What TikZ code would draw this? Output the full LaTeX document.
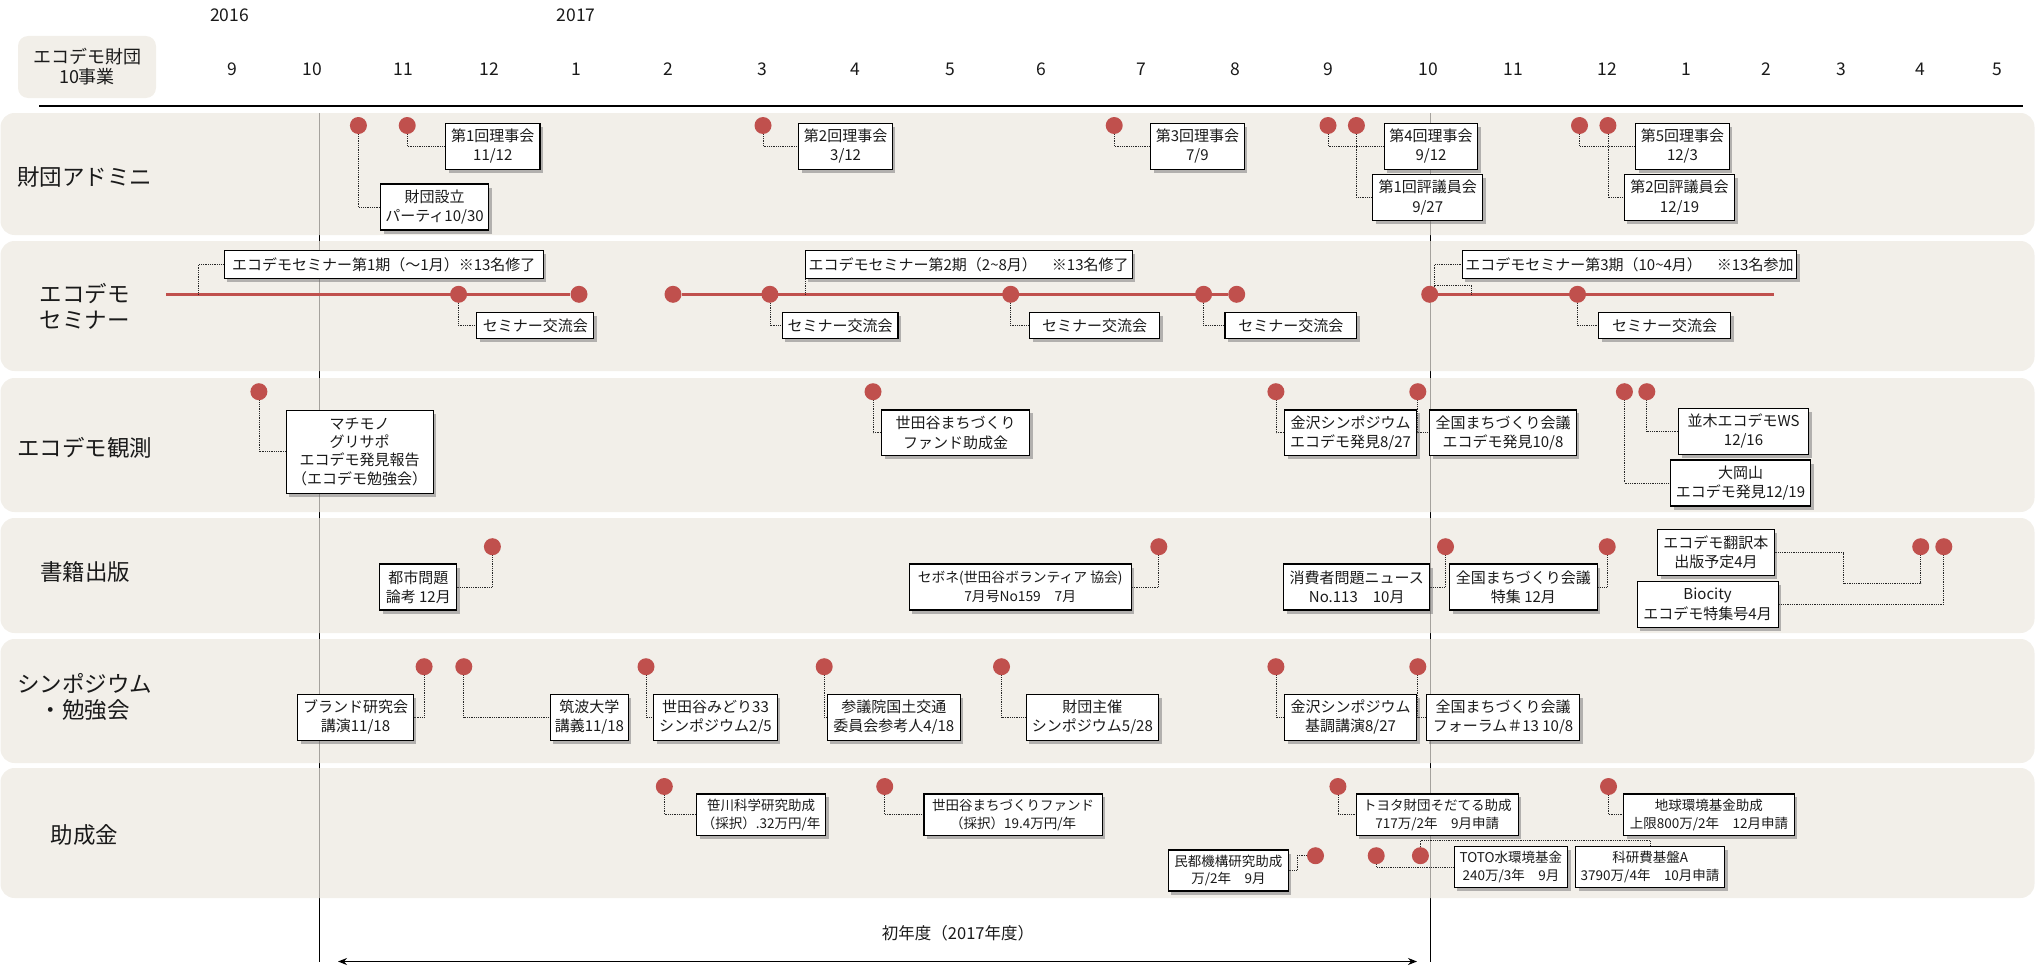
\documentclass[tikz,border=0pt]{standalone}
\usepackage{fontspec}
\setmainfont{Noto Sans CJK JP}
\usetikzlibrary{shadows,arrows.meta}
\definecolor{dotred}{HTML}{C0504D}
\definecolor{bandc}{RGB}{236,232,224}
\definecolor{bandf}{HTML}{F2EFE9}
\definecolor{txt}{HTML}{1A1A1A}
\pgfdeclarelayer{bg}
\pgfdeclarelayer{cn}
\pgfsetlayers{bg,cn,main}
\tikzset{
 evbox/.style={draw=black, line width=1.1pt, fill=white, align=center, inner sep=1pt, text=txt,
   font=\fontsize{15}{19.3}\selectfont,
   drop shadow={shadow xshift=3pt, shadow yshift=-3.5pt, opacity=0.45, fill=black!60}},
 smallbox/.style={evbox, font=\fontsize{13.5}{17.7}\selectfont},
 wh/.style 2 args={minimum width=#1, minimum height=#2},
 evdot/.style={circle, fill=dotred, minimum size=17pt, inner sep=0pt},
 conn/.style={densely dotted, line width=0.8pt, black!85},
 redline/.style={line width=3.6pt, draw=dotred},
 band/.style={fill=bandc, fill opacity=0.7, rounded corners=14pt},
 rowlbl/.style={align=center, text=txt, font=\fontsize{22.5}{26}\selectfont},
 month/.style={text=txt, font=\fontsize{17.5}{20}\selectfont},
}
\begin{document}
\begin{tikzpicture}[x=1pt,y=-1pt]
\useasboundingbox (0,0) rectangle (2035,966);

% ---------- background: timeline guides and bands ----------
\coordinate (v1t) at (319,113); \coordinate (v1b) at (319,962);
\coordinate (v2t) at (1430,113); \coordinate (v2b) at (1430,962);
\coordinate (hl1) at (39,106); \coordinate (hl2) at (2023,106);
\begin{pgfonlayer}{bg}
\draw[line width=1pt] (v1t) -- (v1b);
\draw[line width=1pt] (v2t) -- (v2b);
\path[band] (0.5,113) rectangle (2034.5,235);
\path[band] (0.5,241) rectangle (2034.5,371);
\path[band] (0.5,378) rectangle (2034.5,512);
\path[band] (0.5,518) rectangle (2034.5,633);
\path[band] (0.5,639) rectangle (2034.5,763);
\path[band] (0.5,768) rectangle (2034.5,898);
\draw[line width=1.5pt] (hl1) -- (hl2);
\end{pgfonlayer}

% ---------- header ----------
\node[fill=bandf, rounded corners=10pt, wh={138pt}{62pt}, align=center, text=txt,
  font=\fontsize{18}{20}\selectfont] (hdr) at (87,67) {エコデモ財団\\10事業};
\node[month] (y2016) at (229.6,15) {2016};
\node[month] (y2017) at (576,15) {2017};
\foreach \m/\x [count=\i] in {9/232.5,10/312.5,11/403.5,12/489.3,1/576.5,2/668.2,3/762,4/855,5/950,6/1041.8,7/1141.5,8/1235,9/1328,10/1428,11/1513.5,12/1607,1/1686.2,2/1766.6,3/1841,4/1920.5,5/1997}
  \node[month] (mo\i) at (\x,69) {\m};

% ---------- row labels ----------
\node[rowlbl] (L1) at (84.5,177) {財団アドミニ};
\node[rowlbl] (L2) at (84.5,306.5) {エコデモ\\セミナー};
\node[rowlbl] (L3) at (84.5,448) {エコデモ観測};
\node[rowlbl] (L4) at (85,572) {書籍出版};
\node[rowlbl] (L5) at (84.5,697) {シンポジウム\\・勉強会};
\node[rowlbl] (L6) at (84.5,835) {助成金};

% ---------- band 1 ----------
\node[evdot] (a1) at (358.4,125.5) {};
\node[evdot] (a2) at (407.2,125.5) {};
\node[evdot] (a3) at (763,125.5) {};
\node[evdot] (a4) at (1114.2,125.5) {};
\node[evdot] (a5) at (1328,125.5) {};
\node[evdot] (a6) at (1356.4,125.5) {};
\node[evdot] (a7) at (1579.5,125.5) {};
\node[evdot] (a8) at (1607.9,125.5) {};
\node[evbox, wh={108pt}{46pt}] (bz) at (434.5,207) {財団設立\\パーティ10/30};
\node[evbox, wh={94.4pt}{46pt}] (r1) at (492.8,146.3) {第1回理事会\\11/12};
\node[evbox, wh={93.7pt}{46pt}] (r2) at (845.6,146.3) {第2回理事会\\3/12};
\node[evbox, wh={93.7pt}{46pt}] (r3) at (1197.4,146.3) {第3回理事会\\7/9};
\node[evbox, wh={93.8pt}{46pt}] (r4) at (1431,146.3) {第4回理事会\\9/12};
\node[evbox, wh={109.6pt}{46.4pt}] (h1) at (1427.7,197.5) {第1回評議員会\\9/27};
\node[evbox, wh={93.7pt}{46pt}] (r5) at (1682.5,146.3) {第5回理事会\\12/3};
\node[evbox, wh={110.2pt}{46.4pt}] (h2) at (1679.5,197.5) {第2回評議員会\\12/19};
\begin{pgfonlayer}{cn}
\draw[conn] (a1) |- (bz.west);
\draw[conn] (a2) |- (r1.west);
\draw[conn] (a3) |- (r2.west);
\draw[conn] (a4) |- (r3.west);
\draw[conn] (a5) |- (r4.west);
\draw[conn] (a6) |- (h1.west);
\draw[conn] (a7) |- (r5.west);
\draw[conn] (a8) |- (h2.west);
\end{pgfonlayer}

% ---------- band 2 ----------
\coordinate (s1a) at (166,294.3);
\coordinate (s1k) at (198.4,294.3);
\node[evdot] (s1b) at (458.6,294.3) {};
\node[evdot] (s1c) at (579,294.3) {};
\node[evdot] (s2a) at (673,294.3) {};
\node[evdot] (s2b) at (769.9,294.3) {};
\coordinate (s2k) at (805.1,294.3);
\node[evdot] (s2c) at (1010.7,294.3) {};
\node[evdot] (s2d) at (1203.6,294.3) {};
\node[evdot] (s2e) at (1236.7,294.3) {};
\node[evdot] (s3a) at (1429.7,294.3) {};
\coordinate (s3k) at (1434.3,294.3);
\coordinate (s3j) at (1471.2,294.3);
\coordinate (s3i) at (1434.3,285);
\node[evdot] (s3b) at (1577.5,294.3) {};
\coordinate (s3e) at (1773.5,294.3);
\node[evbox, wh={318.8pt}{27.6pt}] (p1) at (383.8,264.5) {エコデモセミナー第1期（～1月）※13名修了};
\node[evbox, wh={327.1pt}{27.6pt}] (p2) at (968.6,264.5) {エコデモセミナー第2期（2\textasciitilde8月）　※13名修了};
\node[evbox, wh={334.7pt}{27.6pt}] (p3) at (1629.4,264.5) {エコデモセミナー第3期（10\textasciitilde4月）　※13名参加};
\node[evbox, wh={117pt}{26.4pt}] (k1) at (535.3,325.5) {セミナー交流会};
\node[evbox, wh={115.9pt}{26.4pt}] (k2) at (840,325.5) {セミナー交流会};
\node[evbox, wh={130pt}{26.4pt}] (k3) at (1094.6,325.5) {セミナー交流会};
\node[evbox, wh={131.6pt}{26.4pt}] (k4) at (1290.8,325.5) {セミナー交流会};
\node[evbox, wh={132pt}{26.4pt}] (k5) at (1664.6,325.5) {セミナー交流会};
\begin{pgfonlayer}{cn}
\draw[redline] (s1a) -- (s1c);
\draw[redline] (s2a) -- (s2e);
\draw[redline] (s3a) -- (s3e);
\draw[conn] (s1k) |- (p1.west);
\draw[conn] (s2k) |- (p2.west);
\draw[conn] (s3k) |- (p3.west);
\draw[conn] (s3j) |- (s3i);
\draw[conn] (s1b) |- (k1.west);
\draw[conn] (s2b) |- (k2.west);
\draw[conn] (s2c) |- (k3.west);
\draw[conn] (s2d) |- (k4.west);
\draw[conn] (s3b) |- (k5.west);
\end{pgfonlayer}

% ---------- band 3 ----------
\node[evdot] (o1) at (258.9,391.7) {};
\node[evdot] (o2) at (873,391.7) {};
\node[evdot] (o3) at (1275.9,391.7) {};
\node[evdot] (o4) at (1417.8,391.7) {};
\node[evdot] (o5) at (1624.4,391.7) {};
\node[evdot] (o6) at (1646.8,391.7) {};
\node[evbox, wh={147pt}{83.3pt}, font=\fontsize{15}{18.3}\selectfont] (m1) at (359.7,451.7) {マチモノ\\グリサポ\\エコデモ発見報告\\（エコデモ勉強会）};
\node[evbox, wh={148pt}{45.7pt}] (m2) at (955.6,432.8) {世田谷まちづくり\\ファンド助成金};
\node[evbox, wh={132pt}{45.7pt}] (m3) at (1350.5,432.8) {金沢シンポジウム\\エコデモ発見8/27};
\node[evbox, wh={146.5pt}{45.7pt}] (m4) at (1503,432.8) {全国まちづくり会議\\エコデモ発見10/8};
\node[evbox, wh={130pt}{45.7pt}] (m5) at (1743.5,431.2) {並木エコデモWS\\12/16};
\node[evbox, wh={140pt}{46pt}] (m6) at (1740.5,483) {大岡山\\エコデモ発見12/19};
\begin{pgfonlayer}{cn}
\draw[conn] (o1) |- (m1.west);
\draw[conn] (o2) |- (m2.west);
\draw[conn] (o3) |- (m3.west);
\draw[conn] (o4) |- (m4.west);
\draw[conn] (o5) |- (m6.west);
\draw[conn] (o6) |- (m5.west);
\end{pgfonlayer}

% ---------- band 4 ----------
\node[evdot] (q1) at (492.4,546.7) {};
\node[evdot] (q2) at (1158.8,546.7) {};
\node[evdot] (q3) at (1445.5,546.7) {};
\node[evdot] (q4) at (1607.2,546.7) {};
\node[evdot] (q5) at (1920.7,546.7) {};
\node[evdot] (q6) at (1943.8,546.7) {};
\coordinate (q5b) at (1843.5,583);
\node[evbox, wh={76.8pt}{46pt}] (n1) at (418.3,587) {都市問題\\論考 12月};
\node[evbox, wh={222pt}{46pt}, font=\fontsize{13.8}{19}\selectfont] (n2) at (1020.2,587) {セボネ(世田谷ボランティア 協会)\\7月号No159　7月};
\node[evbox, wh={145.9pt}{46pt}] (n3) at (1356.7,587) {消費者問題ニュース\\No.113　10月};
\node[evbox, wh={147.8pt}{46pt}] (n4) at (1523.4,587) {全国まちづくり会議\\特集 12月};
\node[evbox, wh={116.8pt}{46.4pt}] (n5) at (1715.9,552.5) {エコデモ翻訳本\\出版予定4月};
\node[evbox, wh={141pt}{46.3pt}] (n6) at (1707.6,604.2) {Biocity\\エコデモ特集号4月};
\begin{pgfonlayer}{cn}
\draw[conn] (q1) |- (n1.east);
\draw[conn] (q2) |- (n2.east);
\draw[conn] (q3) |- (n3.east);
\draw[conn] (q4) |- (n4.east);
\draw[conn] (q5) |- (q5b) |- (n5.east);
\draw[conn] (q6) |- (n6.east);
\end{pgfonlayer}

% ---------- band 5 ----------
\node[evdot] (t1) at (424.1,666.7) {};
\node[evdot] (t2) at (463.8,666.7) {};
\node[evdot] (t3) at (646,666.7) {};
\node[evdot] (t4) at (824.2,666.7) {};
\node[evdot] (t5) at (1001.5,666.7) {};
\node[evdot] (t6) at (1275.9,666.7) {};
\node[evdot] (t7) at (1417.8,666.7) {};
\node[evbox, wh={115.2pt}{45.7pt}] (y1) at (355.5,717.2) {ブランド研究会\\講演11/18};
\node[evbox, wh={78.1pt}{45.7pt}] (y2) at (589.4,717.2) {筑波大学\\講義11/18};
\node[evbox, wh={123.5pt}{45.7pt}] (y3) at (715.5,717.2) {世田谷みどり33\\シンポジウム2/5};
\node[evbox, wh={132.7pt}{45.7pt}] (y4) at (893.8,717.2) {参議院国土交通\\委員会参考人4/18};
\node[evbox, wh={132.7pt}{45.7pt}] (y5) at (1092.4,717.2) {財団主催\\シンポジウム5/28};
\node[evbox, wh={132pt}{45.7pt}] (y6) at (1350.5,717.2) {金沢シンポジウム\\基調講演8/27};
\node[evbox, wh={153.1pt}{45.7pt}] (y7) at (1503,717.2) {全国まちづくり会議\\フォーラム＃13 10/8};
\begin{pgfonlayer}{cn}
\draw[conn] (t1) |- (y1.east);
\draw[conn] (t2) |- (y2.west);
\draw[conn] (t3) |- (y3.west);
\draw[conn] (t4) |- (y4.west);
\draw[conn] (t5) |- (y5.west);
\draw[conn] (t6) |- (y6.west);
\draw[conn] (t7) |- (y7.west);
\end{pgfonlayer}

% ---------- band 6 ----------
\node[evdot] (g1) at (664.3,786.5) {};
\node[evdot] (g2) at (884.7,786.5) {};
\node[evdot] (g3) at (1337.9,786.5) {};
\node[evdot] (g4) at (1608.5,786.5) {};
\node[evdot] (g5) at (1315.5,855.7) {};
\node[evdot] (g6) at (1376.2,855.7) {};
\node[evdot] (g7) at (1420.4,855.7) {};
\coordinate (g5b) at (1296.9,855.7);
\coordinate (g7b) at (1650.1,840);
\node[smallbox, wh={128.6pt}{41.7pt}] (z1) at (761.2,814.8) {笹川科学研究助成\\（採択）.32万円/年};
\node[smallbox, wh={178.5pt}{41.7pt}] (z2) at (1013.2,814.8) {世田谷まちづくりファンド\\（採択）19.4万円/年};
\node[smallbox, wh={161.7pt}{41.7pt}] (z3) at (1437.3,814.8) {トヨタ財団そだてる助成\\717万/2年　9月申請};
\node[smallbox, wh={170.3pt}{41.7pt}] (z4) at (1708.9,814.8) {地球環境基金助成\\上限800万/2年　12月申請};
\node[smallbox, wh={120.1pt}{41pt}] (z5) at (1228.4,870.5) {民都機構研究助成\\万/2年　9月};
\node[smallbox, wh={113.5pt}{41pt}] (z6) at (1510.9,867.2) {TOTO水環境基金\\240万/3年　9月};
\node[smallbox, wh={149.2pt}{41pt}] (z7) at (1650.1,867.2) {科研費基盤A\\3790万/4年　10月申請};
\begin{pgfonlayer}{cn}
\draw[conn] (g1) |- (z1.west);
\draw[conn] (g2) |- (z2.west);
\draw[conn] (g3) |- (z3.west);
\draw[conn] (g4) |- (z4.west);
\draw[conn] (g5) -- (g5b) |- (z5.east);
\draw[conn] (g6) |- (z6.west);
\draw[conn] (g7) |- (g7b) -- (z7.north);
\end{pgfonlayer}

% ---------- bottom ----------
\node[text=txt, font=\fontsize{16.5}{20}\selectfont] (fy) at (958,933) {初年度（2017年度）};
\coordinate (arL) at (338,961.5);
\coordinate (arR) at (1417,961.5);
\draw[line width=1.3pt, {Stealth[length=9pt,width=7pt]}-{Stealth[length=9pt,width=7pt]}] (arL) -- (arR);
\end{tikzpicture}
\end{document}
